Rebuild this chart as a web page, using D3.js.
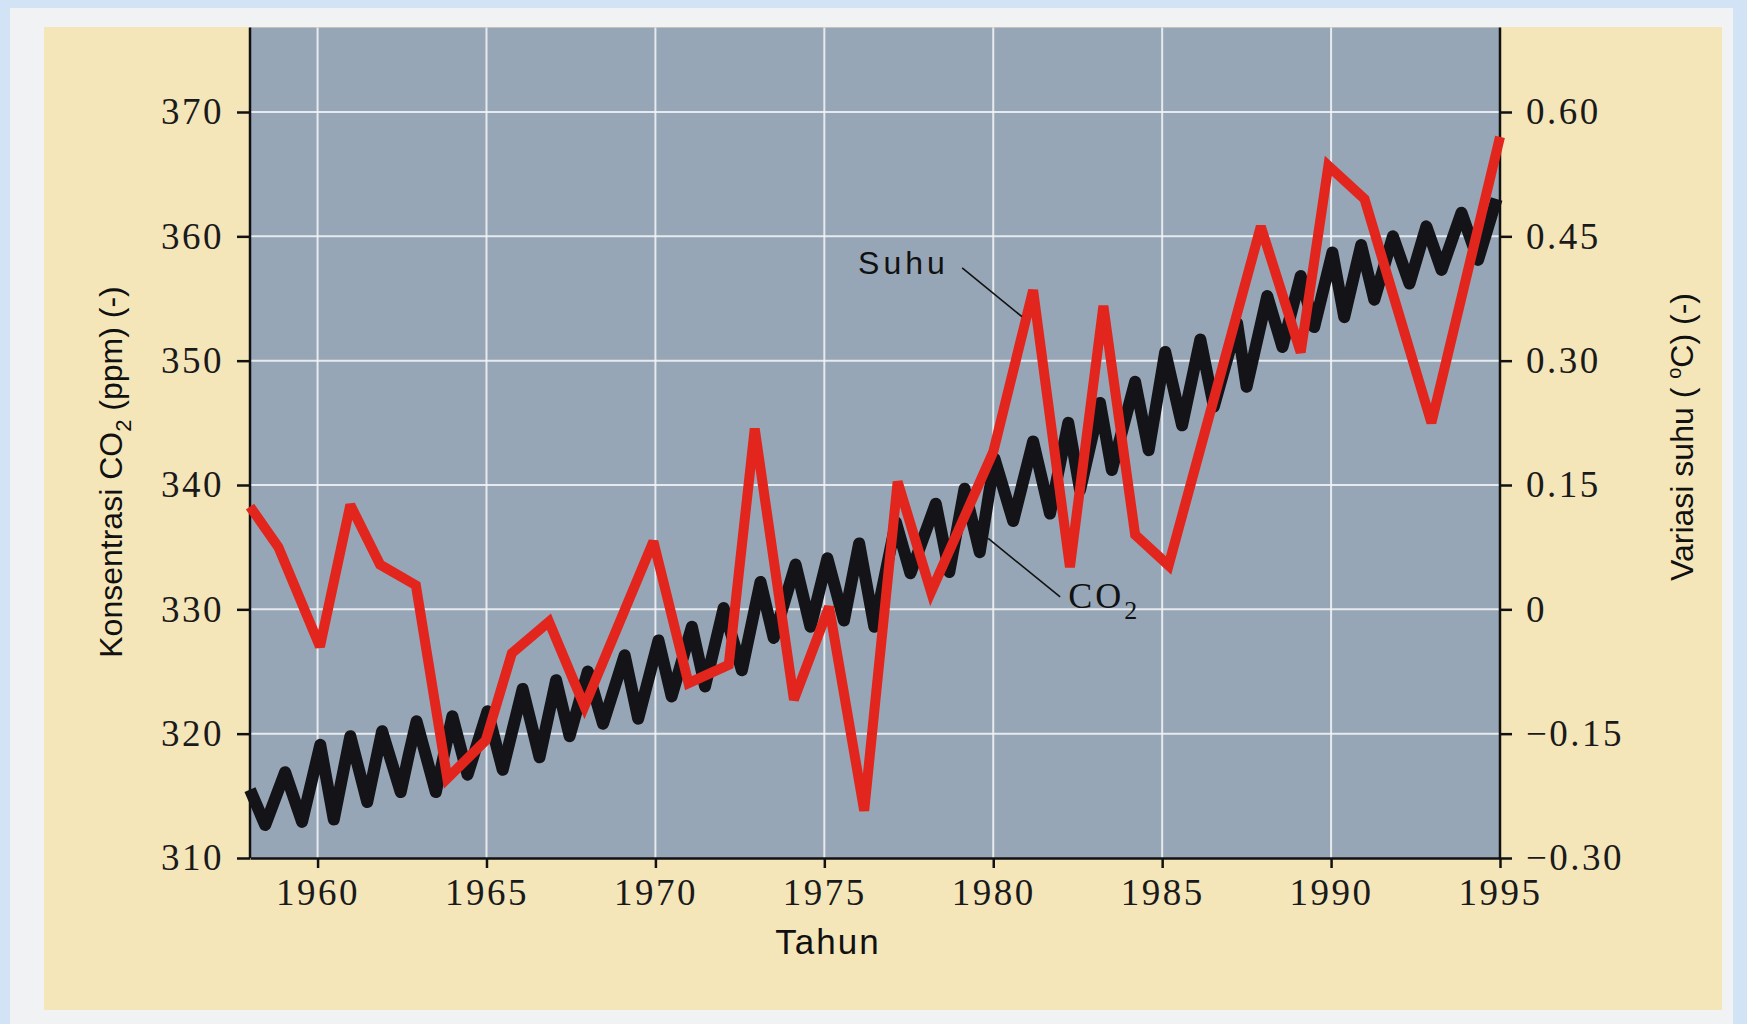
<!DOCTYPE html>
<html>
<head>
<meta charset="utf-8">
<script src="https://cdn.jsdelivr.net/npm/d3@7"></script>
<style>
  body { margin: 0; background: #d2e3f6; }
  svg { display: block; }
</style>
</head>
<body>
<div id="grafik"></div>
<script>
// data CO2 (ppm), puncak dan lembah musiman
var co2Tahun = [1958.0, 1958.45, 1959.04, 1959.54, 1960.08, 1960.48, 1960.97, 1961.47, 1961.91, 1962.46,
  1962.7, 1962.93, 1963.5, 1963.99, 1964.44, 1965.03, 1965.48, 1966.07, 1966.57, 1967.06,
  1967.46, 1968.0, 1968.45, 1969.09, 1969.49, 1970.09, 1970.48, 1971.08, 1971.47, 1972.02,
  1972.56, 1973.11, 1973.5, 1974.15, 1974.59, 1975.09, 1975.58, 1976.03, 1976.48, 1977.12,
  1977.55, 1978.3, 1978.7, 1979.15, 1979.6, 1980.04, 1980.59, 1981.18, 1981.68, 1982.22,
  1982.57, 1983.16, 1983.51, 1984.2, 1984.6, 1985.09, 1985.59, 1986.13, 1986.53, 1987.22,
  1987.5, 1988.11, 1988.56, 1989.1, 1989.5, 1990.04, 1990.39, 1990.89, 1991.28, 1991.83,
  1992.32, 1992.82, 1993.27, 1993.86, 1994.35, 1994.9];
var co2Nilai = [315.5, 312.65, 316.9, 312.9, 319.1, 313.1, 319.8, 314.5, 320.2, 315.3,
  318.3, 321.0, 315.3, 321.4, 316.7, 321.8, 317.1, 323.6, 318.1, 324.3,
  319.8, 325.0, 320.8, 326.3, 321.2, 327.5, 323.0, 328.6, 323.8, 330.1,
  325.1, 332.2, 327.7, 333.6, 328.6, 334.1, 329.1, 335.3, 328.6, 337.0,
  332.9, 338.5, 333.0, 339.7, 334.6, 342.1, 337.1, 343.5, 337.7, 345.0,
  339.6, 346.6, 341.2, 348.3, 342.8, 350.7, 344.8, 351.7, 346.3, 353.0,
  347.9, 355.2, 351.1, 356.8, 352.7, 358.7, 353.5, 359.3, 354.9, 360.0,
  356.2, 360.8, 357.3, 361.9, 358.1, 363.0];

// data variasi suhu (oC)
var suhuTahun = [1958.0, 1958.84, 1960.07, 1960.97, 1961.85, 1962.91, 1963.84, 1964.98, 1965.75, 1966.85,
  1967.9, 1969.94, 1970.98, 1972.17, 1972.94, 1974.1, 1975.14, 1976.18, 1977.17, 1978.16,
  1980.0, 1981.18, 1982.27, 1983.26, 1984.2, 1985.19, 1987.92, 1989.1, 1989.92, 1990.99,
  1992.97, 1995.0];
var suhuNilai = [0.124, 0.075, -0.045, 0.126, 0.054, 0.029, -0.204, -0.158, -0.053, -0.015,
  -0.117, 0.082, -0.089, -0.067, 0.218, -0.109, 0.003, -0.243, 0.154, 0.021,
  0.19, 0.385, 0.051, 0.366, 0.09, 0.053, 0.462, 0.31, 0.535, 0.495,
  0.225, 0.57];

var tahunTicks = [1960, 1965, 1970, 1975, 1980, 1985, 1990, 1995];
var co2Ticks = [310, 320, 330, 340, 350, 360, 370];
var suhuTicks = [-0.30, -0.15, 0, 0.15, 0.30, 0.45, 0.60];
var suhuLabel = ["\u22120.30", "\u22120.15", "0", "0.15", "0.30", "0.45", "0.60"];

var svg = d3.select("#grafik")
    .append("svg")
    .attr("width", 1747)
    .attr("height", 1024);

var x = d3.scaleLinear().domain([1958, 1995]).range([250, 1500]);
var yCO2 = d3.scaleLinear().domain([310, 370]).range([858, 112]);
var ySuhu = d3.scaleLinear().domain([-0.30, 0.60]).range([858, 112]);
var atas = 376.8;

// bingkai dan latar
svg.append("rect")
  .attr("x", 10).attr("y", 8).attr("width", 1723).attr("height", 1016)
  .attr("fill", "#f0f2f4");
svg.append("rect")
  .attr("x", 44).attr("y", 27).attr("width", 1678).attr("height", 983)
  .attr("fill", "#f5e6ba");
svg.append("rect")
  .attr("x", x(1958)).attr("y", yCO2(atas))
  .attr("width", x(1995) - x(1958)).attr("height", yCO2(310) - yCO2(atas))
  .attr("fill", "#97a6b6");

// grid
svg.selectAll(".gx").data(tahunTicks.slice(0, -1)).enter().append("line")
  .attr("x1", d => x(d)).attr("x2", d => x(d))
  .attr("y1", yCO2(atas)).attr("y2", yCO2(310))
  .attr("stroke", "#f4f6f8").attr("stroke-width", 2).attr("opacity", 0.85);
svg.selectAll(".gy").data(co2Ticks.slice(1)).enter().append("line")
  .attr("x1", x(1958)).attr("x2", x(1995))
  .attr("y1", d => yCO2(d)).attr("y2", d => yCO2(d))
  .attr("stroke", "#f4f6f8").attr("stroke-width", 2).attr("opacity", 0.85);

// sumbu
function gaya(g) {
  g.selectAll("path").attr("stroke", "#111").attr("stroke-width", 2.5);
  g.selectAll("line").attr("stroke", "#111").attr("stroke-width", 2.5);
  g.selectAll("text")
    .attr("fill", "#1a1a1a")
    .style("font-family", "'Liberation Serif', serif")
    .style("font-size", "37px")
    .style("letter-spacing", "2.5px");
}

svg.append("g")
  .attr("transform", "translate(0," + yCO2(310) + ")")
  .call(d3.axisBottom(x).tickValues(tahunTicks).tickFormat(d3.format("d"))
    .tickSizeInner(10).tickSizeOuter(0).tickPadding(11))
  .call(gaya);

svg.append("g")
  .attr("transform", "translate(" + x(1958) + ",0)")
  .call(d3.axisLeft(yCO2).tickValues(co2Ticks).tickFormat(d3.format("d"))
    .tickSizeInner(13).tickSizeOuter(0).tickPadding(13))
  .call(gaya)
  .select(".domain").attr("d", "M0," + yCO2(atas) + "V" + yCO2(310));

svg.append("g")
  .attr("transform", "translate(" + x(1995) + ",0)")
  .call(d3.axisRight(ySuhu).tickValues(suhuTicks).tickFormat((d, i) => suhuLabel[i])
    .tickSizeInner(12).tickSizeOuter(0).tickPadding(14))
  .call(gaya)
  .select(".domain").attr("d", "M0," + yCO2(atas) + "V" + yCO2(310));

// garis data
var garisCO2 = d3.line().x((d, i) => x(co2Tahun[i])).y(d => yCO2(d));
var garisSuhu = d3.line().x((d, i) => x(suhuTahun[i])).y(d => ySuhu(d));

svg.append("path")
  .attr("d", garisCO2(co2Nilai))
  .attr("fill", "none")
  .attr("stroke", "#141418")
  .attr("stroke-width", 12)
  .attr("stroke-linejoin", "round");

svg.append("path")
  .attr("d", garisSuhu(suhuNilai))
  .attr("fill", "none")
  .attr("stroke", "#e2261e")
  .attr("stroke-width", 10)
  .attr("stroke-linejoin", "miter")
  .attr("stroke-miterlimit", 3);

// keterangan
svg.append("line")
  .attr("x1", x(1979.08)).attr("y1", ySuhu(0.412))
  .attr("x2", x(1980.85)).attr("y2", ySuhu(0.353))
  .attr("stroke", "#111").attr("stroke-width", 1.6);
svg.append("text")
  .attr("x", x(1976.0)).attr("y", ySuhu(0.405))
  .style("font-family", "'Liberation Sans', Arial, sans-serif")
  .style("font-size", "32px")
  .style("letter-spacing", "4px")
  .attr("fill", "#111")
  .text("Suhu");

svg.append("line")
  .attr("x1", x(1979.85)).attr("y1", yCO2(335.7))
  .attr("x2", x(1981.98)).attr("y2", yCO2(331.0))
  .attr("stroke", "#111").attr("stroke-width", 1.6);
var lblCO2 = svg.append("text")
  .attr("x", x(1982.22)).attr("y", yCO2(330.1))
  .style("font-family", "'Liberation Serif', serif")
  .style("font-size", "36px")
  .style("letter-spacing", "3px")
  .attr("fill", "#111");
lblCO2.append("tspan").text("CO");
lblCO2.append("tspan").attr("dy", 11).style("font-size", "26px").text("2");

// judul sumbu
svg.append("text")
  .attr("x", 828).attr("y", 954)
  .attr("text-anchor", "middle")
  .style("font-family", "'Liberation Sans', Arial, sans-serif")
  .style("font-size", "35px")
  .style("letter-spacing", "2px")
  .attr("fill", "#111")
  .text("Tahun");

var judulKiri = svg.append("text")
  .attr("transform", "translate(122,472) rotate(-90)")
  .attr("text-anchor", "middle")
  .style("font-family", "'Liberation Sans', Arial, sans-serif")
  .style("font-size", "32px")
  .attr("fill", "#111");
judulKiri.append("tspan").text("Konsentrasi CO");
judulKiri.append("tspan").attr("dy", 9).style("font-size", "22px").text("2");
judulKiri.append("tspan").attr("dy", -9).text(" (ppm) (-)");

var judulKanan = svg.append("text")
  .attr("transform", "translate(1693,437) rotate(-90)")
  .attr("text-anchor", "middle")
  .style("font-family", "'Liberation Sans', Arial, sans-serif")
  .style("font-size", "32px")
  .attr("fill", "#111");
judulKanan.append("tspan").text("Variasi suhu ( ");
judulKanan.append("tspan").attr("dy", -12).style("font-size", "20px").text("o");
judulKanan.append("tspan").attr("dy", 12).text("C) (-)");
</script>
</body>
</html>
